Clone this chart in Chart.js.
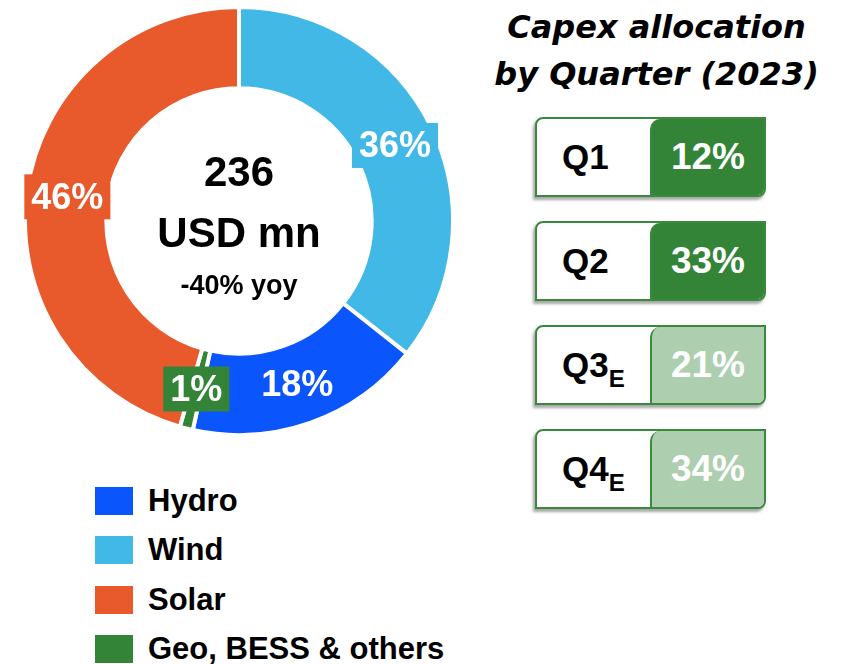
<!DOCTYPE html>
<html>
<head>
<meta charset="utf-8">
<script src="https://cdn.jsdelivr.net/npm/chart.js@4.4.0/dist/chart.umd.min.js"></script>
<style>
    html, body { margin: 0; padding: 0; background: #fff; }
    body { width: 843px; height: 664px; position: relative; overflow: hidden; font-family: "Liberation Sans", Arial, sans-serif; }
    #donutBox { position: absolute; left: 23px; top: 5px; width: 432px; height: 432px; }
    #legend { position: absolute; left: 95px; top: 476px; }
    .legend-item { display: flex; align-items: center; height: 49.5px; font-weight: bold; font-size: 31px; color: #000; }
    .legend-swatch { width: 38px; height: 28px; margin-right: 15px; }
    #title { position: absolute; left: 470px; width: 373px; top: 4px; text-align: center; font-family: "DejaVu Sans", sans-serif; font-weight: bold; font-style: italic; font-size: 32px; line-height: 47px; color: #000; }
    .qbox { position: absolute; left: 535px; width: 227px; height: 76px; border: 2px solid #3a8a3e; border-radius: 8px 0 8px 0; background: #fff; display: flex; overflow: hidden; box-shadow: -2px 3px 3px rgba(0, 0, 0, 0.35); }
    .qname { width: 113px; display: flex; align-items: center; padding-left: 25px; box-sizing: border-box; font-weight: bold; font-size: 35px; color: #000; }
    .qname sub { font-size: 24px; vertical-align: -10px; line-height: 0; }
    .qval { flex: 1; display: flex; align-items: center; justify-content: center; border-left: 2px solid #3a8a3e; border-top-left-radius: 10px; font-weight: bold; font-size: 37px; color: #fff; }
</style>
</head>
<body>
<div id="donutBox"><canvas id="donut"></canvas></div>
<div id="legend"></div>
<div id="title">Capex allocation<br>by Quarter (2023)</div>
<div id="quarters"></div>
<script>
// slices, clockwise from 12 o'clock
const sources = ['Wind', 'Hydro', 'Geo, BESS & others', 'Solar'];
const shares = [36, 18, 1, 46];
const sliceColors = ['#42b8e6', '#0a56fc', '#348438', '#e85a2c'];
const legendOrder = ['Hydro', 'Wind', 'Solar', 'Geo, BESS & others'];

const centerLines = ['236', 'USD mn', '-40% yoy'];

const quarters = ['Q1', 'Q2', 'Q3', 'Q4'];
const quarterEstimate = [false, false, true, true];
const quarterShares = [12, 33, 21, 34];

// labels on the ring, white text on a box of the slice colour
const sliceLabels = {
    id: 'sliceLabels',
    afterDatasetsDraw(chart) {
        const ctx = chart.ctx;
        const meta = chart.getDatasetMeta(0);
        ctx.save();
        ctx.font = 'bold 36px "Liberation Sans", Arial, sans-serif';
        ctx.textAlign = 'center';
        ctx.textBaseline = 'middle';
        meta.data.forEach((arc, i) => {
            const p = arc.tooltipPosition();
            const text = shares[i] + '%';
            const w = ctx.measureText(text).width + 14;
            const h = 45;
            ctx.fillStyle = sliceColors[i];
            ctx.fillRect(p.x - w / 2, p.y - h / 2, w, h);
            ctx.fillStyle = '#fff';
            ctx.fillText(text, p.x, p.y + 2);
        });
        ctx.restore();
    }
};

// total in the hole
const centerText = {
    id: 'centerText',
    afterDraw(chart) {
        const ctx = chart.ctx;
        const arc = chart.getDatasetMeta(0).data[0];
        ctx.save();
        ctx.fillStyle = '#000';
        ctx.textAlign = 'center';
        ctx.textBaseline = 'alphabetic';
        ctx.font = 'bold 42px "Liberation Sans", Arial, sans-serif';
        ctx.fillText(centerLines[0], arc.x, arc.y - 35);
        ctx.font = 'bold 42px "Liberation Sans", Arial, sans-serif';
        ctx.fillText(centerLines[1], arc.x, arc.y + 26);
        ctx.font = 'bold 27px "Liberation Sans", Arial, sans-serif';
        ctx.fillText(centerLines[2], arc.x, arc.y + 73);
        ctx.restore();
    }
};

new Chart(document.getElementById('donut').getContext('2d'), {
    type: 'doughnut',
    data: {
        labels: sources,
        datasets: [{
            data: shares,
            backgroundColor: sliceColors,
            borderColor: '#fff',
            borderWidth: 4
        }]
    },
    options: {
        responsive: true,
        maintainAspectRatio: false,
        animation: false,
        cutout: '62%',
        layout: { padding: 0 },
        plugins: {
            legend: { display: false },
            tooltip: { enabled: false }
        }
    },
    plugins: [sliceLabels, centerText]
});

// legend
const legendEl = document.getElementById('legend');
legendOrder.forEach(name => {
    const item = document.createElement('div');
    item.className = 'legend-item';
    const sw = document.createElement('div');
    sw.className = 'legend-swatch';
    sw.style.background = sliceColors[sources.indexOf(name)];
    const label = document.createElement('span');
    label.textContent = name;
    item.appendChild(sw);
    item.appendChild(label);
    legendEl.appendChild(item);
});

// quarter boxes
const qEl = document.getElementById('quarters');
quarters.forEach((q, i) => {
    const box = document.createElement('div');
    box.className = 'qbox';
    box.style.top = (117 + i * 104) + 'px';
    const name = document.createElement('div');
    name.className = 'qname';
    name.innerHTML = '<span>' + q + (quarterEstimate[i] ? '<sub>E</sub>' : '') + '</span>';
    const val = document.createElement('div');
    val.className = 'qval';
    val.style.background = quarterEstimate[i] ? '#adcfaf' : '#348438';
    val.textContent = quarterShares[i] + '%';
    box.appendChild(name);
    box.appendChild(val);
    qEl.appendChild(box);
});
</script>
</body>
</html>
